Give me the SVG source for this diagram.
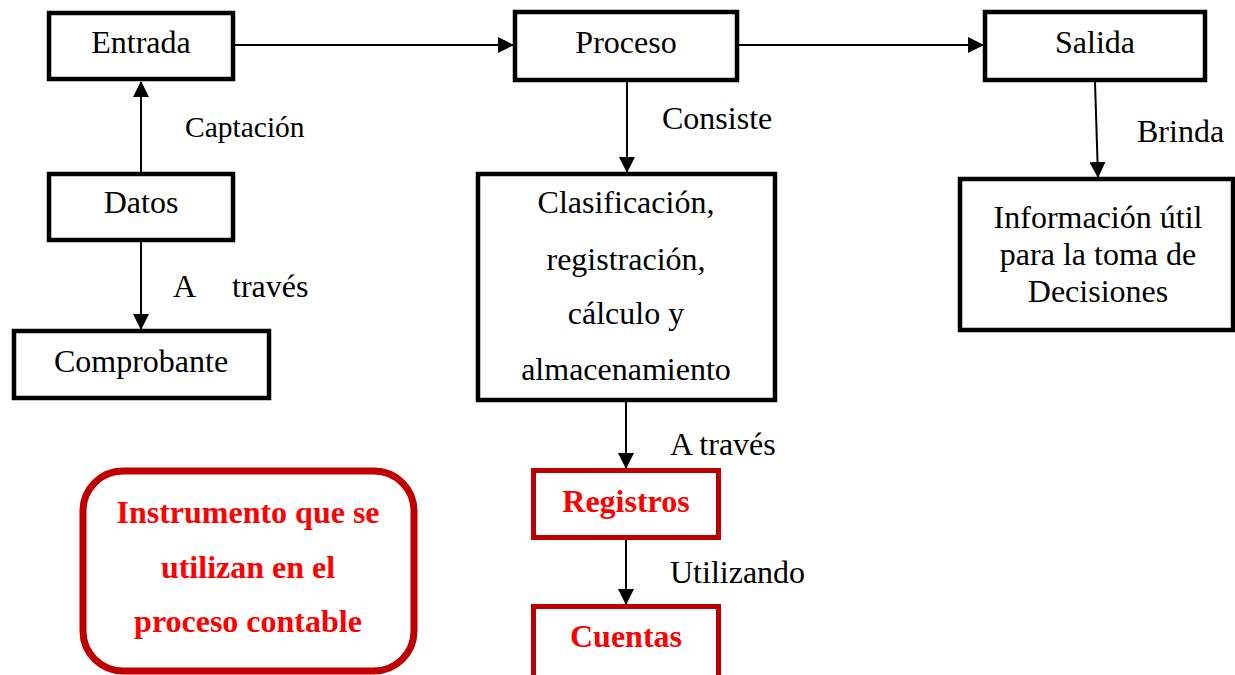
<svg xmlns="http://www.w3.org/2000/svg" width="1235" height="675" viewBox="0 0 1235 675">
<style>
.box{fill:#fff;stroke:#000;stroke-width:4.5}
.rbox{fill:#fff;stroke:#C00000;stroke-width:5}
text{font-family:'Liberation Serif','Times New Roman',Times,'DejaVu Serif',serif}
.t{font-size:32px;fill:#000}
.s{font-size:29.5px}
.c{text-anchor:middle}
.r{font-size:32px;font-weight:bold;fill:#FF0000;text-anchor:middle}
.ln{stroke:#000;stroke-width:2;fill:none;marker-end:url(#ah)}
</style>
<defs>
<marker id="ah" markerUnits="userSpaceOnUse" markerWidth="16" markerHeight="16" viewBox="0 0 16 16" refX="15" refY="8" orient="auto">
<path d="M0,0 L16,8 L0,16 Z" fill="#000"/>
</marker>
</defs>
<rect width="1235" height="675" fill="#fff"/>
<g id="connectors">
<line class="ln" x1="235" y1="45" x2="513" y2="45"/>
<line class="ln" x1="739" y1="45" x2="983" y2="45"/>
<line class="ln" x1="141" y1="172" x2="141" y2="82"/>
<line class="ln" x1="141" y1="242" x2="141" y2="329"/>
<line class="ln" x1="627" y1="82" x2="627" y2="172"/>
<line class="ln" x1="1095" y1="82" x2="1098" y2="177"/>
<line class="ln" x1="626" y1="402" x2="626" y2="468"/>
<line class="ln" x1="626" y1="540" x2="626" y2="604"/>
<text class="t s" x="185" y="137">Captación</text>
<text class="t" x="173" y="297">A</text>
<text class="t" x="232" y="297">través</text>
<text class="t" x="662" y="129">Consiste</text>
<text class="t" x="1137" y="142">Brinda</text>
<text class="t" x="670" y="455">A través</text>
<text class="t" x="670" y="583">Utilizando</text>
</g>
<g id="entrada">
<rect class="box" x="49" y="13" width="184" height="66"/>
<text class="t c" x="141" y="53">Entrada</text>
</g>
<g id="datos">
<rect class="box" x="49" y="174" width="184" height="66"/>
<text class="t c" x="141" y="213">Datos</text>
</g>
<g id="comprobante">
<rect class="box" x="14" y="331" width="255" height="67"/>
<text class="t c" x="141" y="372">Comprobante</text>
</g>
<g id="proceso">
<rect class="box" x="515" y="12" width="222" height="68"/>
<text class="t c" x="626" y="53">Proceso</text>
</g>
<g id="clasificacion">
<rect class="box" x="478" y="174" width="297" height="226"/>
<text class="t c" x="626" y="213">Clasificación,</text>
<text class="t c" x="626" y="270">registración,</text>
<text class="t c" x="626" y="324">cálculo y</text>
<text class="t c" x="626" y="380">almacenamiento</text>
</g>
<g id="salida">
<rect class="box" x="985" y="12" width="220" height="68"/>
<text class="t c" x="1095" y="53">Salida</text>
</g>
<g id="informacion">
<rect class="box" x="960" y="179" width="273" height="151"/>
<text class="t c" x="1098" y="228">Información útil</text>
<text class="t c" x="1098" y="265">para la toma de</text>
<text class="t c" x="1098" y="302">Decisiones</text>
</g>
<g id="registros">
<rect class="rbox" x="533.5" y="470.5" width="185" height="67"/>
<text class="r" x="626" y="512">Registros</text>
</g>
<g id="cuentas">
<rect class="rbox" x="533.5" y="606.5" width="185" height="80"/>
<text class="r" x="626" y="647">Cuentas</text>
</g>
<g id="instrumento">
<rect x="83" y="471" width="331" height="200" rx="40" ry="40" fill="#fff" stroke="#C00000" stroke-width="7"/>
<text class="r" x="248" y="523">Instrumento que se</text>
<text class="r" x="248" y="578">utilizan en el</text>
<text class="r" x="248" y="632">proceso contable</text>
</g>
</svg>
